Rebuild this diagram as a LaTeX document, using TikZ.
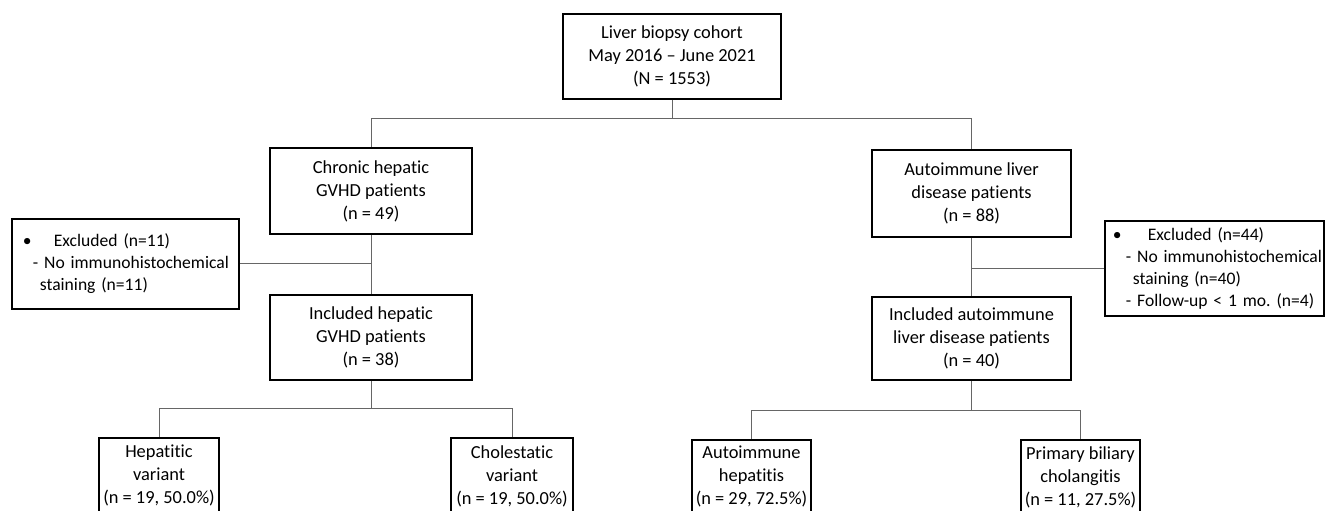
\documentclass[tikz,border=0pt]{standalone}
\usepackage{fontspec}
\setmainfont{Carlito}[Ligatures=NoCommon]
\usetikzlibrary{positioning,calc}
\frenchspacing

\begin{document}
\begin{tikzpicture}[
        x=0.5pt, y=-0.5pt,
        font=\fontsize{9.2}{11.5}\selectfont,
        stagebox/.style={draw=black, line width=0.9pt, align=center, inner sep=2pt},
        exclbox/.style={draw=black, line width=0.9pt, align=left, inner xsep=0pt, anchor=north west, minimum height=45pt, font=\fontsize{8.8}{11}\selectfont},
        link/.style={draw=black!60, line width=0.5pt}
    ]
        \clip (0,0) rectangle (1326,510);

        % Cohort
        \node (cohort) at (672, 56.5) [stagebox, minimum width=109pt, minimum height=42.5pt] {Liver biopsy cohort\\May 2016 -- June 2021\\(N = 1553)};

        % GVHD branch
        \node (chronic) at (371, 191) [stagebox, minimum width=101pt, minimum height=43pt] {Chronic hepatic\\GVHD patients\\(n = 49)};
        \node (exclL) at (11, 218) [exclbox, text width=113.5pt] {\hspace*{5.5pt}\makebox[15.5pt][l]{\textbullet}Excluded (n=11)\\\hspace*{10.5pt}\mbox{- No immunohistochemical}\\\hspace*{14pt}staining (n=11)};
        \node (inclH) at (371, 337.5) [stagebox, minimum width=101pt, minimum height=42.5pt] {Included hepatic\\GVHD patients\\(n = 38)};
            \node (hepv) at (159, 437) [stagebox, anchor=north, minimum width=60pt, minimum height=38pt] {Hepatitic\\variant\\(n = 19, 50.0\%)};
            \node (cholv) at (512, 437) [stagebox, anchor=north, minimum width=61pt, minimum height=38pt] {Cholestatic\\variant\\(n = 19, 50.0\%)};

        % Autoimmune branch
        \node (aild) at (971.5, 193.5) [stagebox, minimum width=99.5pt, minimum height=43.5pt] {Autoimmune liver\\disease patients\\(n = 88)};
        \node (exclR) at (1104, 220) [exclbox, text width=109.5pt, minimum height=46.5pt] {\hspace*{4pt}\makebox[17.5pt][l]{\textbullet}Excluded (n=44)\\\hspace*{10.5pt}\mbox{- No immunohistochemical}\\\hspace*{14pt}staining (n=40)\\\hspace*{10.5pt}\mbox{- Follow-up < 1 mo. (n=4)}};
        \node (inclA) at (971.5, 338.5) [stagebox, minimum width=99.5pt, minimum height=41.5pt] {Included autoimmune\\liver disease patients\\(n = 40)};
            \node (aih) at (751.5, 439) [stagebox, anchor=north, minimum width=57.5pt, minimum height=37pt] {Autoimmune\\hepatitis\\(n = 29, 72.5\%)};
            \node (pbc) at (1080.5, 439) [stagebox, anchor=north, minimum width=57.5pt, minimum height=37pt] {Primary biliary\\cholangitis\\(n = 11, 27.5\%)};

        % Connectors
        \draw[link] (cohort.south) -- ++(0,19) -| (chronic.north);
        \draw[link] (cohort.south) -- ++(0,19) -| (aild.north);
        \draw[link] (chronic.south) -- (inclH.north);
        \draw[link] (exclL.east) -- (exclL.east -| chronic.south);
        \draw[link] (aild.south) -- (inclA.north);
        \draw[link] (exclR.west) -- (exclR.west -| aild.south);
        \draw[link] (inclH.south) -- ++(0,28) -| (hepv.north);
        \draw[link] (inclH.south) -- ++(0,28) -| (cholv.north);
        \draw[link] (inclA.south) -- ++(0,30) -| (aih.north);
        \draw[link] (inclA.south) -- ++(0,30) -| (pbc.north);
    \end{tikzpicture}
\end{document}
